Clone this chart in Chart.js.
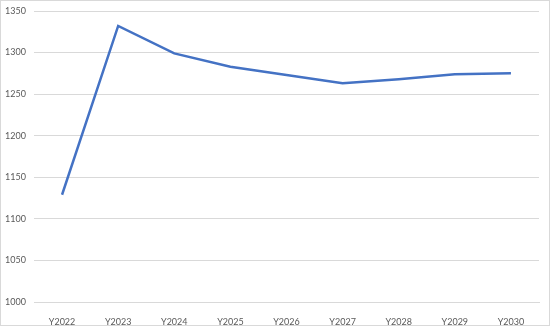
<!DOCTYPE html>
<html>
<head>
<meta charset="utf-8">
<script src="https://cdn.jsdelivr.net/npm/chart.js@4"></script>
<style>
  html, body { margin: 0; padding: 0; background: #fff; }
  #wrap { width: 550px; height: 326px; box-sizing: border-box; border: 1px solid #d9d9d9; }
</style>
</head>
<body>
<div id="wrap"><canvas id="chart" width="548" height="324"></canvas></div>
<script>
const years = ["Y2022", "Y2023", "Y2024", "Y2025", "Y2026", "Y2027", "Y2028", "Y2029", "Y2030"];
const values = [1129, 1332, 1299, 1283, 1273, 1263, 1268, 1274, 1275];
const yTicks = [1000, 1050, 1100, 1150, 1200, 1250, 1300, 1350];

const tickFont = { family: "Lato, 'Open Sans', sans-serif", size: 9 };

new Chart(document.getElementById("chart"), {
  type: "line",
  data: {
    labels: years,
    datasets: [{
      data: values,
      borderColor: "#4472C4",
      borderWidth: 2.5,
      pointRadius: 0,
      tension: 0,
      fill: false
    }]
  },
  options: {
    responsive: false,
    animation: false,
    layout: { padding: { top: 10, right: 10, left: 0, bottom: 0 } },
    plugins: { legend: { display: false }, tooltip: { enabled: false } },
    scales: {
      x: {
        offset: true,
        grid: { display: false },
        border: { display: true, color: "#d9d9d9" },
        ticks: { color: "#595959", font: tickFont, padding: 7, maxRotation: 0 },
        afterFit: (s) => { s.height = 23; s.paddingLeft = 0; s.paddingRight = 0; }
      },
      y: {
        min: yTicks[0],
        max: yTicks[yTicks.length - 1],
        afterBuildTicks: (s) => { s.ticks = yTicks.map(v => ({ value: v })); },
        grid: { color: "#d9d9d9", drawTicks: false },
        border: { display: false },
        ticks: { color: "#595959", font: tickFont, padding: 8, callback: (v) => String(v) },
        afterFit: (s) => { s.width = 33; s.paddingTop = 0; s.paddingBottom = 0; }
      }
    }
  }
});
</script>
</body>
</html>
